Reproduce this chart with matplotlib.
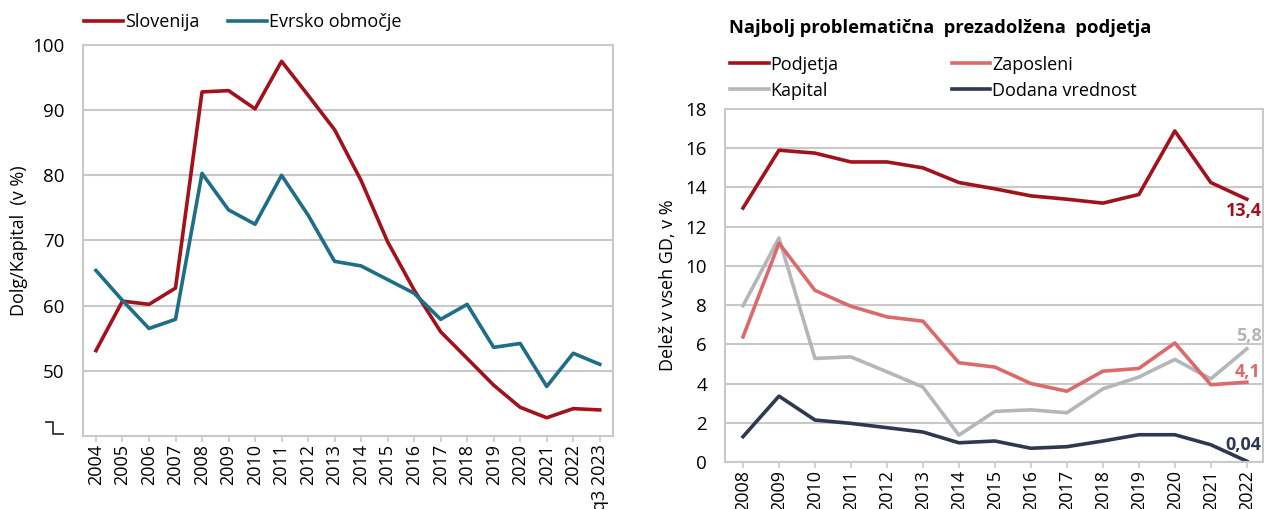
import numpy as np
import matplotlib
matplotlib.use("Agg")
import matplotlib.pyplot as plt
from matplotlib.lines import Line2D

## Data for left chart: debt/equity ratio
years_left = ["2004", "2005", "2006", "2007", "2008", "2009", "2010", "2011", "2012", "2013",
              "2014", "2015", "2016", "2017", "2018", "2019", "2020", "2021", "2022", "q3 2023"]
slovenija = [53.1, 60.7, 60.2, 62.7, 92.8, 93.0, 90.2, 97.5, 92.3, 87.0,
             79.2, 69.8, 62.4, 56.0, 51.9, 47.8, 44.4, 42.8, 44.2, 44.0]
evro = [65.4, 60.8, 56.5, 57.9, 80.3, 74.7, 72.5, 80.0, 73.9, 66.8,
        66.1, 64.0, 61.9, 57.9, 60.2, 53.6, 54.2, 47.6, 52.7, 51.0]

## Data for right chart: most problematic over-indebted firms
years_right = ["2008", "2009", "2010", "2011", "2012", "2013", "2014", "2015",
               "2016", "2017", "2018", "2019", "2020", "2021", "2022"]
podjetja = [12.95, 15.9, 15.75, 15.3, 15.3, 15.0, 14.25, 13.93, 13.57, 13.4, 13.2, 13.64, 16.88, 14.25, 13.4]
zaposleni = [6.38, 11.16, 8.75, 7.94, 7.4, 7.18, 5.06, 4.84, 4.0, 3.61, 4.63, 4.77, 6.07, 3.94, 4.07]
kapital = [7.97, 11.42, 5.28, 5.36, 4.6, 3.82, 1.37, 2.58, 2.66, 2.51, 3.73, 4.33, 5.23, 4.24, 5.77]
dodana = [1.29, 3.36, 2.14, 1.97, 1.75, 1.53, 0.98, 1.07, 0.7, 0.78, 1.07, 1.39, 1.39, 0.88, 0.04]
end_labels = ["13,4", "4,1", "5,8", "0,04"]

## Colours
RED = "#A3121B"
TEAL = "#1E6E8A"
PINK = "#DC6A6A"
GREY = "#B3B6BB"
NAVY = "#2E3853"
GRID = "#C9C9C9"

plt.rcParams['font.family'] = ['Open Sans', 'DejaVu Sans']
plt.rcParams['font.size'] = 13

W, H = 1264, 509
fig = plt.figure(figsize=(W / 100, H / 100), dpi=100)


def style_axes(ax):
    for s in ax.spines.values():
        s.set_color(GRID)
        s.set_linewidth(1.5)
    ax.yaxis.grid(True, color=GRID, linewidth=1.5)
    ax.set_axisbelow(True)
    ax.tick_params(axis='y', length=0, pad=13, labelsize=13.5)
    ax.tick_params(axis='x', length=4, width=1.2, color=GRID, labelrotation=90, labelsize=13, pad=2)


## Left chart
ax1 = fig.add_axes([82.7 / W, 1 - 436 / H, (613 - 82.7) / W, 391 / H])
x1 = np.arange(len(years_left))
ax1.plot(x1, slovenija, color=RED, linewidth=2.6, label="Slovenija")
ax1.plot(x1, evro, color=TEAL, linewidth=2.6, label="Evrsko območje")
ax1.set_xlim(-0.5, len(years_left) - 0.5)
ax1.set_ylim(40, 100)
ax1.set_yticks([50, 60, 70, 80, 90, 100])
ax1.set_xticks(x1)
ax1.set_xticklabels(years_left)
style_axes(ax1)
ax1.set_ylabel("Dolg/Kapital  (v %)", fontsize=13)
ax1.yaxis.set_label_coords(-0.103, 0.5)
ax1.legend(loc='center left', bbox_to_anchor=(0.0025, 1.059), ncol=2, frameon=False,
           handlelength=2.15, handletextpad=0.1, columnspacing=1.6, borderaxespad=0,
           borderpad=0, fontsize=13)

## broken axis mark
bx = [45.5 / W, 53.3 / W, 53.3 / W, 63.3 / W]
by = [1 - 422.3 / H, 1 - 422.3 / H, 1 - 433.5 / H, 1 - 433.5 / H]
fig.add_artist(Line2D(bx, by, transform=fig.transFigure, color="#333333", linewidth=1.3))

## Right chart
ax2 = fig.add_axes([725 / W, 1 - 462 / H, (1263 - 725) / W, 353 / H])
x2 = np.arange(len(years_right))
ax2.plot(x2, podjetja, color=RED, linewidth=2.6, label="Podjetja")
ax2.plot(x2, kapital, color=GREY, linewidth=2.6, label="Kapital")
ax2.plot(x2, zaposleni, color=PINK, linewidth=2.6, label="Zaposleni")
ax2.plot(x2, dodana, color=NAVY, linewidth=2.6, label="Dodana vrednost")
ax2.set_xlim(-0.5, 14.45)
ax2.set_ylim(0, 18)
ax2.set_yticks(np.arange(0, 19, 2))
ax2.set_xticks(x2)
ax2.set_xticklabels(years_right)
style_axes(ax2)
ax2.set_ylabel("Delež v vseh GD, v %", fontsize=13)
ax2.yaxis.set_label_coords(-0.089, 0.5)

ax2.legend(loc='center left', bbox_to_anchor=(0.0093, 1.089), ncol=2, frameon=False,
           handlelength=2.15, handletextpad=0.1, columnspacing=6.25, borderaxespad=0,
           borderpad=0, labelspacing=0.45, fontsize=13)
ax2.text(0.007, 1.229, "Najbolj problematična  prezadolžena  podjetja", transform=ax2.transAxes,
         fontsize=13.2, fontweight='bold', ha='left', va='center')

## End labels
last = len(years_right) - 1
label_kw = dict(textcoords='offset points', ha='right', va='center', fontweight='bold',
                fontsize=13, annotation_clip=False)
ax2.annotate(end_labels[0], (last, podjetja[-1]), xytext=(11, -8.6), color=RED, **label_kw)
ax2.annotate(end_labels[1], (last, zaposleni[-1]), xytext=(10, 7.2), color=PINK, **label_kw)
ax2.annotate(end_labels[2], (last, kapital[-1]), xytext=(11, 9.4), color=GREY, **label_kw)
ax2.annotate(end_labels[3], (last, dodana[-1]), xytext=(10.5, 11.5), color=NAVY, **label_kw)

fig.savefig("out.png", dpi=100)
